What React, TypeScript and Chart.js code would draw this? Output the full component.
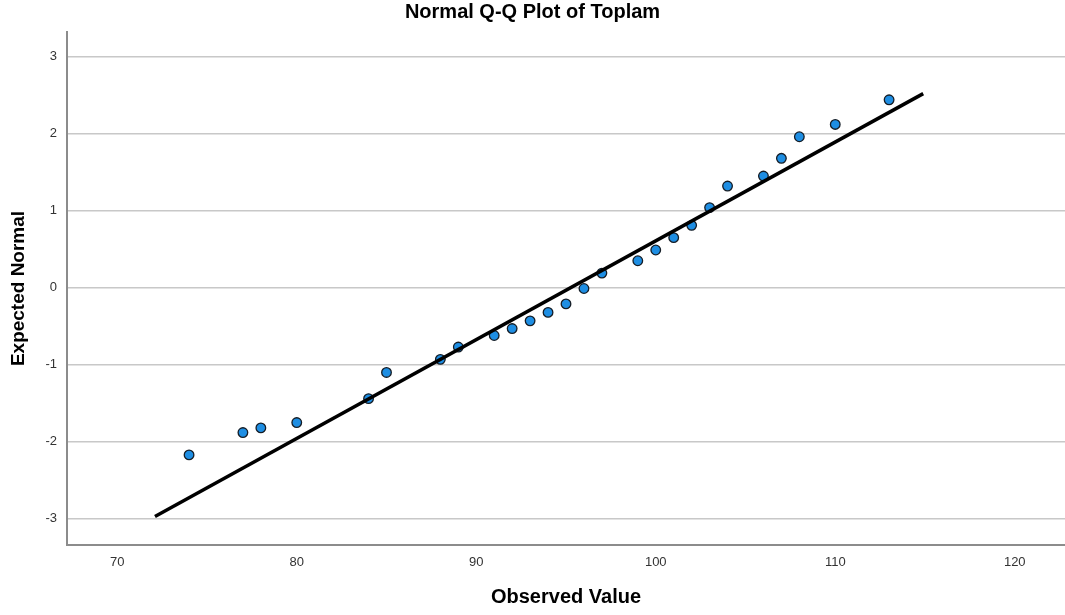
import React, { useEffect, useRef } from "react";
import { Chart, registerables } from "chart.js";

Chart.register(...registerables);

const observedValues = [74, 77, 78, 80, 84, 85, 88, 89, 91, 92, 93, 94, 95, 96, 97, 99, 100, 101, 102, 103, 104, 106, 107, 108, 110, 113];
const expectedNormal = [-2.17, -1.88, -1.82, -1.75, -1.44, -1.1, -0.93, -0.77, -0.62, -0.53, -0.43, -0.32, -0.21, -0.01, 0.19, 0.35, 0.49, 0.65, 0.81, 1.04, 1.32, 1.45, 1.68, 1.96, 2.12, 2.44];
const refLineX = [72.1, 114.9];
const refLineY = [-2.97, 2.52];
const xTicks = [70, 80, 90, 100, 110, 120];
const yTicks = [-3, -2, -1, 0, 1, 2, 3];

const FONT = "'Liberation Sans', Arial, sans-serif";

export default function App() {
  const ref = useRef<HTMLCanvasElement | null>(null);
  useEffect(() => {
    if (!ref.current) return;
    Chart.defaults.font.family = FONT;
    const chart = new Chart(ref.current, {
      type: "scatter",
      data: {
        datasets: [
          {
            type: "line",
            label: "Reference",
            data: refLineX.map((x, i) => ({ x, y: refLineY[i] })),
            borderColor: "#000000",
            borderWidth: 3.5,
            pointRadius: 0,
            fill: false,
            showLine: true,
          } as any,
          {
            label: "Observed",
            data: observedValues.map((x, i) => ({ x, y: expectedNormal[i] })),
            backgroundColor: "#1e8ee3",
            borderColor: "#151d26",
            borderWidth: 1.3,
            pointRadius: 4.8,
          },
        ],
      },
      options: {
        animation: false,
        responsive: false,
        layout: { padding: 0, autoPadding: false },
        plugins: {
          legend: { display: false },
          tooltip: { enabled: false },
          title: {
            display: true,
            text: "Normal Q-Q Plot of Toplam",
            color: "#000000",
            font: { size: 20, weight: "bold", family: FONT },
            padding: { top: 0, bottom: 8 },
          },
        },
        scales: {
          x: {
            type: "linear",
            min: 67.2,
            max: 122.8,
            afterBuildTicks: (s: any) => {
              s.ticks = xTicks.map((v) => ({ value: v }));
            },
            afterFit: (s: any) => {
              s.height = 70;
              s.paddingLeft = 0;
              s.paddingRight = 0;
            },
            grid: { display: false, drawTicks: false },
            border: { display: true, color: "#8c8c8c", width: 2 },
            ticks: { color: "#333333", font: { size: 13 }, padding: 10, maxRotation: 0 },
            title: {
              display: true,
              text: "Observed Value",
              color: "#000000",
              font: { size: 20, weight: "bold", family: FONT },
              padding: { top: 0, bottom: 6 },
            },
          },
          y: {
            type: "linear",
            min: -3.34,
            max: 3.32,
            afterBuildTicks: (s: any) => {
              s.ticks = yTicks.map((v) => ({ value: v }));
            },
            afterFit: (s: any) => {
              s.width = 67;
              s.paddingTop = 0;
              s.paddingBottom = 0;
            },
            grid: { color: "#c8c8c8", lineWidth: 1.5, drawTicks: false },
            border: { display: true, color: "#8c8c8c", width: 2 },
            ticks: { color: "#333333", font: { size: 13 }, padding: 10 },
            title: {
              display: true,
              text: "Expected Normal",
              color: "#000000",
              font: { size: 19, weight: "bold", family: FONT },
              padding: { top: 7, bottom: 0 },
            },
          },
        },
      },
    });
    return () => chart.destroy();
  }, []);
  return (
    <canvas
      ref={ref}
      width={1065}
      height={615}
      style={{ position: "absolute", left: 0, top: 0, display: "block", background: "#ffffff" }}
    />
  );
}
